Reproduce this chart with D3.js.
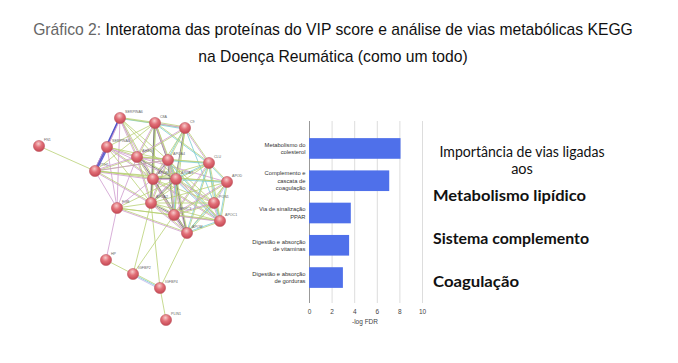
<!DOCTYPE html>
<html>
<head>
<meta charset="utf-8">
<script src="https://cdn.jsdelivr.net/npm/d3@7"></script>
<style>
  body { margin: 0; background: #fff; }
</style>
</head>
<body>
<div id="chart"></div>
<script>

var width = 678;
var height = 363;

// network: protein nodes (layout coordinates), labels, edges with evidence codes
var nodeNames = ['SERPINA6','C8A','C9','FN1','SERPINA4','AHSG','APOA4','CLU','ITIH1','APOB','APOA1',
                 'APOD','PON1','FGB','APOA2','APOC3','APOC1','APOM','HP','IGFBP2','IGFBP4','PLIN1'];
var nodeX = [81,116,146,0,68,98,129,170,56,114,137,188,175,78,112,135,181,148,67,94,121,127];
var nodeY = [0,5,10,28,29,39,42,45,53,61,61,64,85,90,85,97,103,115,142,156,170,202];

// t = textmining, e = experiments, d = databases, c = coexpression, h = homology, b = strong experimental
var edges = [
  [3,8,'t'],[18,13,'e'],[18,19,'t'],[19,20,'tdh'],[20,21,'t'],[19,14,'t'],[19,15,'t'],[20,14,'t'],[20,17,'t'],
  [0,1,'td'],[0,4,'eb'],[0,5,'te'],[0,8,'eb'],[0,9,'te'],[0,13,'e'],[0,6,'t'],[0,10,'t'],[0,2,'t'],
  [1,2,'ted'],[1,5,'te'],[1,6,'tc'],[1,9,'tc'],[1,10,'te'],[1,7,'td'],[1,4,'t'],[1,8,'t'],[1,14,'tc'],
  [2,6,'td'],[2,7,'te'],[2,10,'tc'],[2,9,'t'],[2,5,'te'],[2,15,'t'],[2,12,'d'],
  [4,8,'bbe'],[4,5,'te'],[4,13,'e'],[4,9,'te'],[4,6,'t'],[4,10,'e'],[4,14,'t'],
  [5,6,'te'],[5,8,'te'],[5,9,'ce'],[5,10,'tc'],[5,13,'e'],[5,14,'te'],[5,15,'t'],[5,7,'t'],[5,11,'e'],
  [6,7,'td'],[6,9,'ce'],[6,10,'tde'],[6,12,'t'],[6,14,'te'],[6,15,'tc'],[6,16,'td'],[6,17,'te'],[6,8,'t'],
  [7,10,'td'],[7,11,'td'],[7,12,'t'],[7,16,'td'],[7,15,'te'],[7,14,'t'],[7,17,'td'],[7,9,'t'],
  [8,9,'te'],[8,10,'t'],[8,13,'e'],[8,14,'te'],[8,6,'e'],[8,11,'t'],
  [9,10,'ce'],[9,13,'e'],[9,14,'tc'],[9,15,'te'],[9,17,'ce'],[9,12,'t'],[9,16,'te'],
  [10,11,'td'],[10,12,'te'],[10,14,'tce'],[10,15,'tde'],[10,16,'ted'],[10,17,'tc'],[10,13,'t'],
  [11,12,'ht'],[11,16,'td'],[11,14,'t'],[11,15,'te'],[11,17,'t'],
  [12,16,'tde'],[12,15,'te'],[12,17,'td'],[12,14,'t'],
  [13,14,'t'],[13,15,'t'],[13,17,'te'],[13,16,'t'],
  [14,15,'tce'],[14,17,'te'],[14,16,'t'],
  [15,16,'te'],[15,17,'tce'],[16,17,'td']
];

// bar chart: KEGG pathways
var pathways = ['Metabolismo do\ncolesterol', 'Complemento e\ncascata de\ncoagulação', 'Via de sinalização\nPPAR',
                'Digestão e absorção\nde vitaminas', 'Digestão e absorção\nde gorduras'];
var logFDR = [8.1, 7.1, 3.7, 3.55, 3.0];
var xTicks = [0, 2, 4, 6, 8, 10];

var titleLine1 = ['Gráfico 2:', ' Interatoma das proteínas do VIP score e análise de vias metabólicas KEGG'];
var titleLine2 = 'na Doença Reumática (como um todo)';
var noteLines = ['Importância de vias ligadas', 'aos'];
var highlights = ['Metabolismo lipídico', 'Sistema complemento', 'Coagulação'];


var svg = d3.select('#chart')
    .append('svg')
    .attr('width', width)
    .attr('height', height)
    .style('background-color', '#fff');

var evidenceColor = {
  t: '#b5cf6e',
  e: '#cc96cc',
  d: '#74c9d2',
  c: '#707070',
  h: '#b8b0e8',
  b: '#4a4fc8'
};

// TITLE
var t1 = svg.append('text')
    .attr('x', 333)
    .attr('y', 35)
    .attr('text-anchor', 'middle')
    .style('font-family', 'Liberation Sans, Arial, sans-serif')
    .style('font-size', '15.7px');
t1.append('tspan').style('fill', '#666').text(titleLine1[0]);
t1.append('tspan').style('fill', '#111').text(titleLine1[1]);

svg.append('text')
    .attr('x', 333)
    .attr('y', 62)
    .attr('text-anchor', 'middle')
    .style('font-family', 'Liberation Sans, Arial, sans-serif')
    .style('font-size', '15.7px')
    .style('fill', '#111')
    .text(titleLine2);


// NETWORK
var nx = d3.scaleLinear().domain([0, 188]).range([39, 227]);
var ny = d3.scaleLinear().domain([0, 202]).range([118, 320]);

var defs = svg.append('defs');
var grad = defs.append('radialGradient')
    .attr('id', 'ball')
    .attr('cx', '45%').attr('cy', '30%').attr('r', '70%');
grad.append('stop').attr('offset', '0%').attr('stop-color', '#f7cccc');
grad.append('stop').attr('offset', '45%').attr('stop-color', '#e27078');
grad.append('stop').attr('offset', '100%').attr('stop-color', '#c44652');

var edgeGroup = svg.append('g').attr('id', 'edges');

edges.forEach(function(e) {
  var x1 = nx(nodeX[e[0]]), y1 = ny(nodeY[e[0]]);
  var x2 = nx(nodeX[e[1]]), y2 = ny(nodeY[e[1]]);
  var len = Math.sqrt((x2 - x1) * (x2 - x1) + (y2 - y1) * (y2 - y1));
  var ox = -(y2 - y1) / len, oy = (x2 - x1) / len;
  var codes = e[2].split('');
  codes.forEach(function(c, i) {
    var off = (i - (codes.length - 1) / 2) * 1.1;
    edgeGroup.append('line')
        .attr('x1', x1 + ox * off).attr('y1', y1 + oy * off)
        .attr('x2', x2 + ox * off).attr('y2', y2 + oy * off)
        .attr('stroke', evidenceColor[c])
        .attr('stroke-width', c == 'b' ? 1.3 : 0.9)
        .attr('stroke-opacity', 0.85);
  });
});

var nodes = svg.selectAll('.node')
    .data(nodeNames)
    .enter()
    .append('g')
    .attr('class', 'node')
    .attr('transform', function(d, i) { return 'translate(' + nx(nodeX[i]) + ',' + ny(nodeY[i]) + ')'; });

nodes.append('circle')
    .attr('r', 5.6)
    .attr('fill', 'url(#ball)')
    .attr('stroke', '#b8505a')
    .attr('stroke-width', 0.5);

nodes.append('text')
    .attr('x', 5)
    .attr('y', -5)
    .text(function(d) { return d; })
    .style('font-family', 'Liberation Sans, Arial, sans-serif')
    .style('font-size', '3.6px')
    .style('fill', '#666');


// BAR CHART
var x = d3.scaleLinear().domain([0, 10]).range([309, 422]);
var y = d3.scaleBand().domain(pathways).range([126.5, 299.5]).padding(0.36);

var grid = svg.append('g')
    .attr('class', 'grid')
    .attr('transform', 'translate(0,303)')
    .call(d3.axisBottom(x).tickValues(xTicks).tickSize(-182).tickFormat(''));
grid.select('.domain').remove();
grid.selectAll('line')
    .attr('stroke', function(d) { return d == 0 ? '#999' : '#ddd'; })
    .attr('stroke-width', 1);

svg.selectAll('.bar')
    .data(logFDR)
    .enter()
    .append('rect')
    .attr('class', 'bar')
    .attr('x', x(0))
    .attr('y', function(d, i) { return y(pathways[i]); })
    .attr('width', function(d) { return x(d) - x(0); })
    .attr('height', y.bandwidth())
    .attr('fill', '#4f70ea');

var xAxis = svg.append('g')
    .attr('transform', 'translate(0,303)')
    .call(d3.axisBottom(x).tickValues(xTicks).tickSize(0).tickPadding(6));
xAxis.select('.domain').remove();
xAxis.selectAll('text')
    .style('font-family', 'Liberation Sans, Arial, sans-serif')
    .style('font-size', '6.5px')
    .style('fill', '#444');

svg.append('text')
    .attr('x', 365)
    .attr('y', 324)
    .attr('text-anchor', 'middle')
    .text('-log FDR')
    .style('font-family', 'Liberation Sans, Arial, sans-serif')
    .style('font-size', '6.5px')
    .style('fill', '#444');

pathways.forEach(function(p) {
  var lines = p.split('\n');
  var cy = y(p) + y.bandwidth() / 2;
  var lab = svg.append('text')
      .attr('text-anchor', 'end')
      .style('font-family', 'Liberation Sans, Arial, sans-serif')
      .style('font-size', '5.8px')
      .style('fill', '#333');
  lines.forEach(function(l, i) {
    lab.append('tspan')
        .attr('x', 305.5)
        .attr('y', cy + 2 + (i - (lines.length - 1) / 2) * 7.3)
        .text(l);
  });
});


// NOTE TEXT
svg.append('text')
    .attr('x', 522)
    .attr('y', 157)
    .attr('text-anchor', 'middle')
    .attr('textLength', 165)
    .attr('lengthAdjust', 'spacingAndGlyphs')
    .text(noteLines[0])
    .style('font-family', 'Lato, sans-serif')
    .style('font-size', '14.5px')
    .style('fill', '#111');

svg.append('text')
    .attr('x', 522)
    .attr('y', 174)
    .attr('text-anchor', 'middle')
    .text(noteLines[1])
    .style('font-family', 'Lato, sans-serif')
    .style('font-size', '14.5px')
    .style('fill', '#111');

var hlWidth = [153, 156, 86];
var hlBase = [201, 244, 287];
highlights.forEach(function(h, i) {
  svg.append('text')
      .attr('x', 433)
      .attr('y', hlBase[i])
      .attr('textLength', hlWidth[i])
      .attr('lengthAdjust', 'spacingAndGlyphs')
      .text(h)
      .style('font-family', 'Lato, sans-serif')
      .style('font-size', '15px')
      .style('font-weight', '700')
      .style('fill', '#111');
});

</script>
</body>
</html>
